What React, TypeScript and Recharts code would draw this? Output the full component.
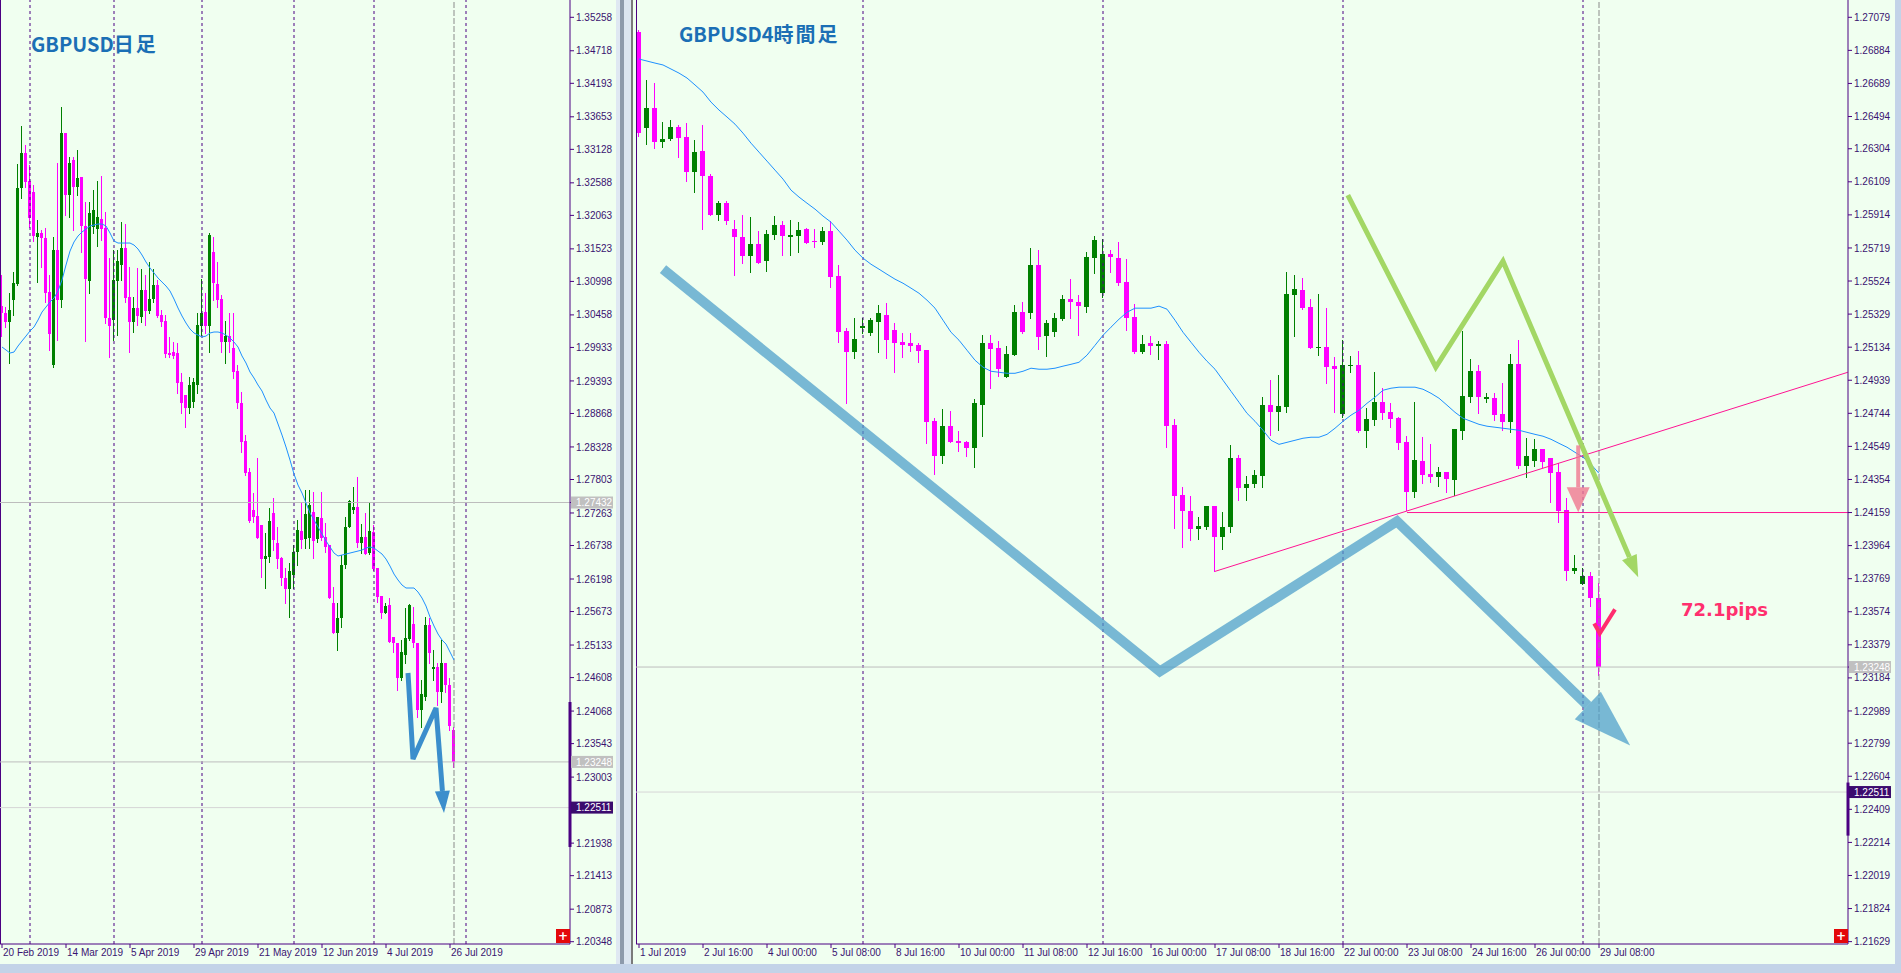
import { ComposedChart, Bar, Line, XAxis, YAxis, ReferenceLine } from "recharts";

const PLOT_BG = "#f0fff0";
const FRAME = "#4b0082";
const LABEL = "#3a1470";
const UP = "#008000";
const DOWN = "#ff00ff";
const MA_COLOR = "#1e90ff";
const AX_FONT = "'Liberation Sans', Arial, sans-serif";

// ---------- GBPUSD daily, 20 Feb 2019 .. 29 Jul 2019 ----------
const dOpen = [1.30601,1.30488,1.30343,1.30698,1.30956,1.32505,1.33069,1.32618,1.32440,1.31714,
1.31779,1.31698,1.30827,1.29650,1.31505,1.30698,1.33392,1.32392,1.32956,1.32521,
1.32682,1.31892,1.31005,1.31876,1.31843,1.32005,1.31859,1.30408,1.30375,1.31005,
1.31263,1.31537,1.30746,1.30343,1.30569,1.30424,1.30859,1.30521,1.30714,1.30940,
1.30456,1.30359,1.29843,1.29859,1.29843,1.29375,1.29166,1.28956,1.29053,1.29327,
1.30279,1.30504,1.30279,1.31472,1.30956,1.30714,1.30020,1.30117,1.29924,1.29553,
1.29037,1.28424,1.27924,1.27311,1.27214,1.27069,1.26520,1.26553,1.27262,1.26778,
1.26537,1.26214,1.26036,1.26262,1.26633,1.26972,1.26843,1.26859,1.27278,1.26843,
1.27182,1.26875,1.26746,1.25811,1.25327,1.25569,1.26424,1.27037,1.27311,1.27359,
1.26778,1.26875,1.26617,1.26956,1.26375,1.25924,1.25649,1.25778,1.25262,1.25165,
1.24601,1.24972,1.25230,1.25472,1.25165,1.24085,1.24294,1.25456,1.24746,1.24778,
1.24375,1.24843,1.24488,1.23762];
const dHigh = [1.31101,1.30585,1.30811,1.31150,1.32892,1.33505,1.33198,1.32876,1.32553,1.31988,
1.31827,1.31859,1.31101,1.31714,1.32908,1.33811,1.33392,1.33005,1.33005,1.33118,
1.32682,1.32279,1.32279,1.32472,1.32618,1.32698,1.32117,1.31376,1.31505,1.31505,
1.31956,1.31924,1.31230,1.30746,1.31214,1.31198,1.31101,1.31311,1.31198,1.31021,
1.30537,1.30456,1.30101,1.30020,1.30004,1.29521,1.29166,1.29456,1.29440,1.30488,
1.31037,1.30811,1.31779,1.31714,1.31311,1.30779,1.30359,1.30488,1.30488,1.29650,
1.29214,1.28520,1.27988,1.27585,1.28150,1.27069,1.26940,1.27343,1.27504,1.27037,
1.26553,1.26375,1.26456,1.26746,1.27149,1.27424,1.27633,1.27633,1.27601,1.27198,
1.27601,1.27101,1.26746,1.26069,1.25811,1.26585,1.27198,1.27472,1.27682,1.27843,
1.27085,1.27262,1.27440,1.27069,1.26375,1.25924,1.25811,1.25891,1.25262,1.25165,
1.25214,1.25730,1.25795,1.25746,1.25165,1.24569,1.25585,1.25569,1.25053,1.24843,
1.25214,1.24843,1.24601,1.23811];
const dLow = [1.30117,1.30263,1.29682,1.30456,1.30940,1.32343,1.32521,1.31876,1.31650,1.30988,
1.31230,1.30666,1.29892,1.29617,1.30053,1.30585,1.32069,1.32037,1.31827,1.32392,
1.31472,1.30037,1.30811,1.31779,1.31569,1.31666,1.30327,1.29779,1.30053,1.30133,
1.31021,1.30666,1.29859,1.30182,1.30295,1.30343,1.30295,1.30488,1.30666,1.30424,
1.30279,1.29779,1.29779,1.29763,1.29198,1.28875,1.28650,1.28875,1.28972,1.29198,
1.30133,1.30166,1.29859,1.30698,1.30585,1.29859,1.29682,1.29859,1.29440,1.28956,
1.28246,1.27875,1.27117,1.27117,1.26859,1.26230,1.26053,1.26472,1.26666,1.26375,
1.26101,1.25811,1.25585,1.26053,1.26424,1.26698,1.26698,1.26698,1.26537,1.26795,
1.26827,1.26633,1.25891,1.25327,1.25053,1.25424,1.26375,1.27037,1.27262,1.26714,
1.26617,1.26601,1.26601,1.26343,1.25827,1.25569,1.25649,1.25181,1.25020,1.24407,
1.24569,1.24843,1.25214,1.25101,1.23972,1.23811,1.24246,1.24843,1.24569,1.24165,
1.24214,1.24375,1.23762,1.23165];
const dClose = [1.30488,1.30343,1.30537,1.30972,1.32505,1.33069,1.32601,1.32021,1.31730,1.31779,
1.31698,1.30811,1.30150,1.31505,1.30698,1.33392,1.32392,1.32908,1.32521,1.32666,
1.31892,1.31037,1.32101,1.32150,1.32037,1.31843,1.30408,1.30279,1.31021,1.31327,
1.31537,1.30730,1.30343,1.30569,1.30440,1.30859,1.30521,1.30714,1.30940,1.30440,
1.30343,1.29827,1.29811,1.29795,1.29359,1.29037,1.28956,1.29327,1.29375,1.30295,
1.30488,1.30279,1.31746,1.30972,1.30698,1.30020,1.30117,1.30020,1.29537,1.29037,
1.28408,1.27908,1.27133,1.27198,1.26859,1.26520,1.26569,1.27133,1.26827,1.26520,
1.26214,1.26036,1.26327,1.26633,1.26988,1.26827,1.27246,1.27391,1.26811,1.27198,
1.26859,1.26714,1.25891,1.25327,1.25569,1.26424,1.27037,1.27456,1.27359,1.26778,
1.26875,1.26601,1.26972,1.26359,1.25907,1.25649,1.25762,1.25181,1.25165,1.24601,
1.25020,1.25246,1.25778,1.25165,1.24085,1.24343,1.25456,1.25004,1.24778,1.24375,
1.24843,1.24488,1.23827,1.23248];
const dMa = [1.29940,1.29892,1.29843,1.29859,1.29956,1.30037,1.30117,1.30198,1.30263,1.30375,
1.30504,1.30585,1.30666,1.30730,1.30843,1.31021,1.31263,1.31488,1.31634,1.31730,
1.31795,1.31843,1.31892,1.31908,1.31924,1.31924,1.31892,1.31779,1.31650,1.31617,
1.31617,1.31617,1.31617,1.31585,1.31521,1.31424,1.31311,1.31214,1.31134,1.31053,
1.30988,1.30924,1.30843,1.30714,1.30569,1.30440,1.30327,1.30230,1.30166,1.30133,
1.30101,1.30117,1.30166,1.30182,1.30182,1.30166,1.30133,1.30085,1.30020,1.29940,
1.29795,1.29682,1.29537,1.29440,1.29327,1.29230,1.29085,1.28956,1.28875,1.28698,
1.28520,1.28327,1.28117,1.27891,1.27714,1.27585,1.27424,1.27262,1.27149,1.27037,
1.26924,1.26811,1.26714,1.26617,1.26569,1.26585,1.26601,1.26617,1.26633,1.26649,
1.26666,1.26698,1.26714,1.26698,1.26649,1.26601,1.26520,1.26407,1.26278,1.26182,
1.26101,1.26053,1.26053,1.26053,1.25988,1.25891,1.25762,1.25585,1.25440,1.25311,
1.25214,1.25149,1.25020,1.24891];

const dTickIdx = [0, 16, 32, 48, 64, 80, 96, 112];
const dTickNames = ["20 Feb 2019", "14 Mar 2019", "5 Apr 2019", "29 Apr 2019", "21 May 2019", "12 Jun 2019", "4 Jul 2019", "26 Jul 2019"];
const dPriceTicks = [1.35258,1.34718,1.34193,1.33653,1.33128,1.32588,1.32063,1.31523,1.30998,1.30458,
1.29933,1.29393,1.28868,1.28328,1.27803,1.27263,1.26738,1.26198,1.25673,1.25133,
1.24608,1.24068,1.23543,1.23003,1.21938,1.21413,1.20873,1.20348,1.27432,1.23248,1.22511];
const dMarks = [{ v: 1.27432, bg: "#c0c0c0" }, { v: 1.23248, bg: "#c0c0c0" }, { v: 1.22511, bg: "#3b0b6e" }];
const dSeparators = [7, 28, 50, 73, 93, 116];
const dNow = 113;
const dGrayLines = [1.27432, 1.23248];
const dBlueIdx = [101.5, 102.75, 108.5, 110.1];
const dBluePrice = [1.24682, 1.23294, 1.24117, 1.22778];
const dBlueTip = [110.5, 1.22423];

// ---------- GBPUSD H4, 1 Jul 2019 08:00 .. 29 Jul 2019 08:00 ----------
const hOpen = [1.26992,1.26426,1.26544,1.26343,1.26361,1.26432,1.26373,1.26166,1.26290,1.26143,
1.25913,1.25983,1.25830,1.25783,1.25671,1.25741,1.25641,1.25795,1.25853,1.25783,
1.25789,1.25830,1.25759,1.25753,1.25818,1.25553,1.25228,1.25104,1.25246,1.25216,
1.25281,1.25322,1.25234,1.25163,1.25157,1.25145,1.25116,1.24697,1.24491,1.24668,
1.24579,1.24573,1.24538,1.24792,1.25157,1.25128,1.24957,1.25087,1.25340,1.25334,
1.25618,1.25199,1.25222,1.25299,1.25417,1.25399,1.25370,1.25659,1.25452,1.25682,
1.25659,1.25517,1.25311,1.25104,1.25157,1.25140,1.25151,1.24674,1.24261,1.24166,
1.24060,1.24072,1.24196,1.24013,1.24072,1.24479,1.24302,1.24325,1.24373,1.24792,
1.24750,1.24780,1.25441,1.25470,1.25370,1.25128,1.25134,1.25022,1.24738,1.25022,
1.25028,1.24638,1.24703,1.24809,1.24750,1.24715,1.24573,1.24278,1.24461,1.24384,
1.24367,1.24396,1.24349,1.24638,1.24839,1.24992,1.24827,1.24833,1.24738,1.24691,
1.25033,1.24432,1.24461,1.24532,1.24479,1.24396,1.24172,1.23812,1.23735,1.23783,
1.23653];
const hHigh = [1.27004,1.26709,1.26691,1.26461,1.26473,1.26444,1.26455,1.26355,1.26444,1.26154,
1.25995,1.25995,1.25883,1.25913,1.25901,1.25818,1.25824,1.25907,1.25877,1.25883,
1.25871,1.25836,1.25830,1.25842,1.25877,1.25618,1.25246,1.25305,1.25305,1.25305,
1.25381,1.25393,1.25275,1.25216,1.25216,1.25157,1.25116,1.24715,1.24768,1.24756,
1.24638,1.24579,1.24827,1.25204,1.25204,1.25169,1.25140,1.25381,1.25399,1.25718,
1.25706,1.25293,1.25334,1.25441,1.25535,1.25441,1.25694,1.25789,1.25771,1.25706,
1.25753,1.25653,1.25387,1.25204,1.25199,1.25169,1.25169,1.24709,1.24308,1.24255,
1.24131,1.24196,1.24196,1.24160,1.24556,1.24497,1.24373,1.24408,1.24839,1.24939,
1.24969,1.25576,1.25559,1.25541,1.25417,1.25446,1.25364,1.25075,1.25175,1.25081,
1.25110,1.24774,1.24986,1.24892,1.24803,1.24721,1.24609,1.24809,1.24603,1.24561,
1.24426,1.24396,1.24650,1.25228,1.25063,1.25028,1.24862,1.24862,1.24921,1.25092,
1.25175,1.24597,1.24591,1.24532,1.24479,1.24449,1.24243,1.23907,1.23830,1.23806,
1.23741];
const hLow = [1.26379,1.26331,1.26308,1.26314,1.26355,1.26255,1.26113,1.26048,1.25830,1.25913,
1.25883,1.25859,1.25559,1.25629,1.25576,1.25629,1.25582,1.25771,1.25677,1.25677,
1.25694,1.25747,1.25724,1.25741,1.25488,1.25163,1.24803,1.25069,1.25216,1.25204,
1.25104,1.25069,1.24986,1.25075,1.25110,1.25045,1.24567,1.24384,1.24449,1.24573,
1.24520,1.24491,1.24426,1.24609,1.24892,1.24963,1.24957,1.25087,1.25216,1.25305,
1.25122,1.25081,1.25199,1.25293,1.25305,1.25204,1.25340,1.25570,1.25429,1.25576,
1.25500,1.25234,1.25098,1.25098,1.25092,1.25063,1.24544,1.24066,1.23954,1.23995,
1.24001,1.24060,1.23812,1.23942,1.24042,1.24231,1.24231,1.24308,1.24308,1.24615,
1.24644,1.24750,1.25199,1.25358,1.25128,1.25087,1.24921,1.24750,1.24721,1.24986,
1.24632,1.24544,1.24674,1.24709,1.24662,1.24532,1.24172,1.24249,1.24331,1.24337,
1.24314,1.24278,1.24261,1.24591,1.24809,1.24744,1.24809,1.24703,1.24644,1.24632,
1.24420,1.24367,1.24432,1.24426,1.24219,1.24101,1.23759,1.23800,1.23735,1.23606,
1.23199];
const hClose = [1.26396,1.26544,1.26343,1.26361,1.26432,1.26367,1.26166,1.26284,1.26143,1.25913,
1.25983,1.25877,1.25783,1.25671,1.25741,1.25629,1.25800,1.25853,1.25789,1.25795,
1.25824,1.25747,1.25753,1.25818,1.25547,1.25222,1.25104,1.25181,1.25258,1.25293,
1.25334,1.25175,1.25157,1.25145,1.25140,1.25110,1.24691,1.24491,1.24668,1.24573,
1.24567,1.24538,1.24803,1.25157,1.25122,1.25004,1.25092,1.25340,1.25222,1.25618,
1.25193,1.25275,1.25305,1.25417,1.25399,1.25376,1.25665,1.25765,1.25682,1.25665,
1.25511,1.25305,1.25104,1.25151,1.25140,1.25151,1.24668,1.24255,1.24166,1.24060,
1.24078,1.24196,1.24013,1.24072,1.24479,1.24302,1.24325,1.24379,1.24792,1.24750,
1.24786,1.25446,1.25476,1.25364,1.25128,1.25134,1.25016,1.25004,1.25028,1.25028,
1.24638,1.24709,1.24809,1.24744,1.24709,1.24567,1.24278,1.24467,1.24379,1.24367,
1.24396,1.24355,1.24650,1.24845,1.24992,1.24839,1.24839,1.24733,1.24691,1.25033,
1.24432,1.24491,1.24532,1.24455,1.24390,1.24166,1.23812,1.23830,1.23783,1.23653,
1.23248];
const hMa = [1.26833,1.26821,1.26809,1.26798,1.26774,1.26750,1.26721,1.26680,1.26638,1.26579,
1.26532,1.26491,1.26449,1.26396,1.26337,1.26284,1.26231,1.26178,1.26125,1.26060,
1.26019,1.25983,1.25948,1.25907,1.25871,1.25818,1.25765,1.25706,1.25659,1.25623,
1.25594,1.25564,1.25535,1.25511,1.25482,1.25452,1.25411,1.25364,1.25293,1.25222,
1.25175,1.25116,1.25057,1.25016,1.24992,1.24986,1.24980,1.24980,1.24992,1.25010,
1.25004,1.25004,1.25010,1.25022,1.25033,1.25045,1.25087,1.25145,1.25204,1.25252,
1.25299,1.25340,1.25364,1.25364,1.25364,1.25376,1.25358,1.25293,1.25222,1.25163,
1.25104,1.25051,1.25004,1.24939,1.24874,1.24809,1.24744,1.24697,1.24644,1.24585,
1.24561,1.24573,1.24585,1.24597,1.24603,1.24603,1.24620,1.24656,1.24697,1.24733,
1.24762,1.24803,1.24839,1.24880,1.24892,1.24898,1.24898,1.24898,1.24886,1.24862,
1.24833,1.24792,1.24750,1.24715,1.24697,1.24679,1.24668,1.24662,1.24656,1.24650,
1.24644,1.24632,1.24620,1.24609,1.24591,1.24567,1.24544,1.24514,1.24485,1.24443,
1.24390];

const hTickIdx = [0, 8, 16, 24, 32, 40, 48, 56, 64, 72, 80, 88, 96, 104, 112, 120];
const hTickNames = ["1 Jul 2019", "2 Jul 16:00", "4 Jul 00:00", "5 Jul 08:00", "8 Jul 16:00", "10 Jul 00:00",
  "11 Jul 08:00", "12 Jul 16:00", "16 Jul 00:00", "17 Jul 08:00", "18 Jul 16:00", "22 Jul 00:00",
  "23 Jul 08:00", "24 Jul 16:00", "26 Jul 00:00", "29 Jul 08:00"];
const hPriceTicks = [1.27079,1.26884,1.26689,1.26494,1.26304,1.26109,1.25914,1.25719,1.25524,1.25329,
1.25134,1.24939,1.24744,1.24549,1.24354,1.24159,1.23964,1.23769,1.23574,1.23379,
1.23184,1.22989,1.22799,1.22604,1.22409,1.22214,1.22019,1.21824,1.21629,1.23248,1.22511];
const hMarks = [{ v: 1.23248, bg: "#c0c0c0" }, { v: 1.22511, bg: "#3b0b6e" }];
const hSeparators = [28, 58, 88, 118];
const hNow = 120;
const hBlueIdx = [3, 65.1, 94.75, 118.6];
const hBluePrice = [1.25594, 1.23222, 1.24107, 1.23021];
const hBlueTip = [123.9, 1.22785];
const hGreenIdx = [88.6, 99.6, 108, 123.8];
const hGreenPrice = [1.26030, 1.25016, 1.25641, 1.23896];
const hGreenTip = [124.9, 1.23777];
const hTrend = [[72, 1.23812], [151.1, 1.24986]];
const hLevel = [96, 1.24159];
const hPinkArrow = [117.4, 1.24555, 1.24308, 1.24160]; // x, tail, head base, tip
const hCheckIdx = [119.4, 120.1, 122];
const hCheckPrice = [1.23505, 1.23446, 1.23588];

const buildRows = (o: number[], h: number[], l: number[], c: number[], ma: number[]) =>
  o.map((_, i) => ({ i, open: o[i], high: h[i], low: l[i], close: c[i], ma: ma[i] }));
const pts = (idx: number[], px: number[]) => idx.map((i, k) => ({ i, v: px[k] }));

const Candle = (p: any) => {
  const { x, y, width, height, payload, bodyW } = p;
  if (x == null || y == null || !payload) return null;
  const top = Math.min(y, y + height);
  const bottom = Math.max(y, y + height);
  const { open, high, low, close } = payload;
  const k = high > low ? (bottom - top) / (high - low) : 0;
  const yo = top + (high - open) * k;
  const yc = top + (high - close) * k;
  const color = close > open ? UP : DOWN;
  const cx = Math.floor(x + width / 2) + 0.5;
  const bTop = Math.round(Math.min(yo, yc));
  const bH = Math.max(1, Math.round(Math.abs(yc - yo)));
  return (
    <g>
      <line x1={cx} x2={cx} y1={Math.round(top)} y2={Math.round(bottom) + 1} stroke={color} strokeWidth={1} />
      <rect x={cx - bodyW / 2} y={bTop} width={bodyW} height={bH} fill={color} />
    </g>
  );
};

const ArrowHead = (p: any) => {
  const { x1, y1, x2, y2, half, color, opacity } = p;
  if ([x1, y1, x2, y2].some((v) => typeof v !== "number" || isNaN(v))) return null;
  const dx = x2 - x1;
  const dy = y2 - y1;
  const len = Math.hypot(dx, dy) || 1;
  const nx = -dy / len;
  const ny = dx / len;
  const points = `${x1 + nx * half},${y1 + ny * half} ${x2},${y2} ${x1 - nx * half},${y1 - ny * half}`;
  return <polygon points={points} fill={color} fillOpacity={opacity} />;
};

const PriceTick = (p: any) => {
  const { x, y, payload, marks } = p;
  const v = payload.value as number;
  const m = marks.find((mm: any) => mm.v === v);
  const s = v.toFixed(5);
  if (m) {
    return (
      <g>
        <rect x={x - 5} y={y - 6} width={42} height={12} fill={m.bg} />
        <text x={x} y={y} dy={3.6} fill="#ffffff" fontSize={10} fontFamily={AX_FONT}>{s}</text>
      </g>
    );
  }
  return <text x={x} y={y} dy={3.6} fill={LABEL} fontSize={10} fontFamily={AX_FONT}>{s}</text>;
};

const TimeTick = (p: any) => {
  const { x, y, payload, idx, names } = p;
  const k = idx.indexOf(payload.value);
  return <text x={x + 1} y={y} dy={6} fill={LABEL} fontSize={10} fontFamily={AX_FONT}>{names[k]}</text>;
};

const plusBox = (left: number) => (
  <div style={{ position: "absolute", left, top: 929, width: 14, height: 14, background: "#e4080a",
    color: "#fff", fontSize: 12, lineHeight: "14px", textAlign: "center", fontFamily: "DejaVu Sans", fontWeight: 700 }}>+</div>
);

const titleStyle = (left: number, top: number) => ({
  position: "absolute" as const, left, top, fontSize: 20, lineHeight: "20px", fontWeight: 700,
  color: "#1b6fb5", fontFamily: "'Noto Sans CJK JP', 'Noto Sans', sans-serif", whiteSpace: "nowrap" as const,
});

export default function App() {
  const dRows = buildRows(dOpen, dHigh, dLow, dClose, dMa);
  const hRows = buildRows(hOpen, hHigh, hLow, hClose, hMa);
  const dDomain: [number, number] = [-0.5, 142];
  const hDomain: [number, number] = [-0.375, 151.125];

  return (
    <div style={{ position: "absolute", left: 0, top: 0, width: 1901, height: 973, background: "#c3d3e8", overflow: "hidden" }}>
      {/* daily panel */}
      <div style={{ position: "absolute", left: 0, top: 0, width: 616, height: 964, background: PLOT_BG }}>
        <ComposedChart width={615} height={964} data={dRows} margin={{ top: 0, right: 0, bottom: 0, left: 0 }}>
          <XAxis type="number" dataKey="i" domain={dDomain} allowDataOverflow ticks={dTickIdx} interval={0}
            height={20} tickSize={4} tickMargin={2} stroke={FRAME} axisLine={{ stroke: FRAME }} tickLine={{ stroke: FRAME }}
            tick={(p: any) => <TimeTick {...p} idx={dTickIdx} names={dTickNames} />} />
          <YAxis type="number" orientation="right" domain={[1.20311, 1.35537]} allowDataOverflow ticks={dPriceTicks}
            interval={0} width={45} tickSize={4} tickMargin={2} axisLine={{ stroke: FRAME }} tickLine={{ stroke: FRAME }}
            tick={(p: any) => <PriceTick {...p} marks={dMarks} />} />
          <ReferenceLine x={dDomain[0]} stroke={FRAME} strokeWidth={2} />
          {dSeparators.map((s) => (
            <ReferenceLine key={s} x={s} stroke={FRAME} strokeDasharray="3 3" />
          ))}
          <ReferenceLine x={dNow} stroke="#8a8a8a" strokeDasharray="6 2" />
          {dGrayLines.map((v) => (
            <ReferenceLine key={v} y={v} stroke="#bdbdbd" />
          ))}
          <ReferenceLine y={1.22511} stroke="#d6d6d6" />
          <ReferenceLine segment={[{ x: 142, y: 1.24214 }, { x: 142, y: 1.21875 }]} stroke={FRAME} strokeWidth={3} ifOverflow="visible" />
          <Bar dataKey={(d: any) => [d.low, d.high]} barSize={3} isAnimationActive={false} activeBar={false}
            shape={(p: any) => <Candle {...p} bodyW={3} />} />
          <Line dataKey="ma" type="linear" stroke={MA_COLOR} strokeWidth={1} dot={false} activeDot={false} isAnimationActive={false} />
          <Line data={pts(dBlueIdx, dBluePrice)} dataKey="v" type="linear" stroke="#3b8ecc" strokeWidth={5}
            strokeLinejoin="miter" dot={false} activeDot={false} isAnimationActive={false} />
          <ReferenceLine segment={[{ x: dBlueIdx[3], y: dBluePrice[3] }, { x: dBlueTip[0], y: dBlueTip[1] }]}
            ifOverflow="visible" shape={(p: any) => <ArrowHead {...p} half={7.5} color="#3b8ecc" opacity={1} />} />
        </ComposedChart>
        <div style={titleStyle(31, 34)}>GBPUSD<span style={{ letterSpacing: 2 }}>日足</span></div>
        {plusBox(556)}
      </div>

      {/* separator between windows */}
      <div style={{ position: "absolute", left: 616, top: 0, width: 4, height: 964, background: "#dfe8f2" }} />
      <div style={{ position: "absolute", left: 620, top: 0, width: 4, height: 964, background: "#8d9aab" }} />
      <div style={{ position: "absolute", left: 624, top: 0, width: 7, height: 964, background: "#dbe5f0" }} />
      <div style={{ position: "absolute", left: 631, top: 0, width: 2, height: 964, background: "#7a7a7a" }} />

      {/* H4 panel */}
      <div style={{ position: "absolute", left: 633, top: 0, width: 1262, height: 964, background: PLOT_BG }}>
        <div style={{ position: "absolute", left: 3, top: 0 }}>
          <ComposedChart width={1262} height={964} data={hRows} margin={{ top: 0, right: 0, bottom: 0, left: 0 }}>
            <XAxis type="number" dataKey="i" domain={hDomain} allowDataOverflow ticks={hTickIdx} interval={0}
              height={20} tickSize={4} tickMargin={2} axisLine={{ stroke: FRAME }} tickLine={{ stroke: FRAME }}
              tick={(p: any) => <TimeTick {...p} idx={hTickIdx} names={hTickNames} />} />
            <YAxis type="number" orientation="right" domain={[1.21615, 1.27181]} allowDataOverflow ticks={hPriceTicks}
              interval={0} width={50} tickSize={4} tickMargin={2} axisLine={{ stroke: FRAME }} tickLine={{ stroke: FRAME }}
              tick={(p: any) => <PriceTick {...p} marks={hMarks} />} />
            <ReferenceLine x={hDomain[0]} stroke={FRAME} strokeWidth={2} />
            {hSeparators.map((s) => (
              <ReferenceLine key={s} x={s} stroke={FRAME} strokeDasharray="3 3" />
            ))}
            <ReferenceLine x={hNow} stroke="#8a8a8a" strokeDasharray="6 2" />
            <ReferenceLine y={1.23248} stroke="#bdbdbd" />
            <ReferenceLine y={1.22511} stroke="#d6d6d6" />
            <ReferenceLine segment={[{ x: 151.125, y: 1.22567 }, { x: 151.125, y: 1.22254 }]} stroke={FRAME} strokeWidth={3} ifOverflow="visible" />
            <Bar dataKey={(d: any) => [d.low, d.high]} barSize={5} isAnimationActive={false} activeBar={false}
              shape={(p: any) => <Candle {...p} bodyW={5} />} />
            <Line dataKey="ma" type="linear" stroke={MA_COLOR} strokeWidth={1} dot={false} activeDot={false} isAnimationActive={false} />
            <ReferenceLine segment={[{ x: hTrend[0][0], y: hTrend[0][1] }, { x: hTrend[1][0], y: hTrend[1][1] }]}
              stroke="#ff1493" strokeWidth={1} ifOverflow="hidden" />
            <ReferenceLine segment={[{ x: hLevel[0], y: hLevel[1] }, { x: hDomain[1], y: hLevel[1] }]}
              stroke="#ff1493" strokeWidth={1} ifOverflow="hidden" />
            <Line data={pts(hBlueIdx, hBluePrice)} dataKey="v" type="linear" stroke="#4a9cc9" strokeOpacity={0.72}
              strokeWidth={10} strokeLinejoin="miter" dot={false} activeDot={false} isAnimationActive={false} />
            <ReferenceLine segment={[{ x: hBlueIdx[3], y: hBluePrice[3] }, { x: hBlueTip[0], y: hBlueTip[1] }]}
              ifOverflow="visible" shape={(p: any) => <ArrowHead {...p} half={19} color="#4a9cc9" opacity={0.72} />} />
            <Line data={pts(hGreenIdx, hGreenPrice)} dataKey="v" type="linear" stroke="#a3d765"
              strokeWidth={5} strokeLinejoin="miter" dot={false} activeDot={false} isAnimationActive={false} />
            <ReferenceLine segment={[{ x: hGreenIdx[3], y: hGreenPrice[3] }, { x: hGreenTip[0], y: hGreenTip[1] }]}
              ifOverflow="visible" shape={(p: any) => <ArrowHead {...p} half={8} color="#a3d765" opacity={1} />} />
            <ReferenceLine segment={[{ x: hPinkArrow[0], y: hPinkArrow[1] }, { x: hPinkArrow[0], y: hPinkArrow[2] }]}
              stroke="#f07890" strokeOpacity={0.8} strokeWidth={4} ifOverflow="visible" />
            <ReferenceLine segment={[{ x: hPinkArrow[0], y: hPinkArrow[2] }, { x: hPinkArrow[0], y: hPinkArrow[3] }]}
              ifOverflow="visible" shape={(p: any) => <ArrowHead {...p} half={11.5} color="#f07890" opacity={0.8} />} />
            <Line data={pts(hCheckIdx, hCheckPrice)} dataKey="v" type="linear" stroke="#ff2d6e"
              strokeWidth={4} strokeLinejoin="miter" dot={false} activeDot={false} isAnimationActive={false} />
          </ComposedChart>
        </div>
        <div style={titleStyle(46, 24)}>GBPUSD4<span style={{ letterSpacing: 2 }}>時間足</span></div>
        <div style={{ position: "absolute", left: 1048, top: 601, fontSize: 18, lineHeight: "18px", fontWeight: 700,
          color: "#ff2f6e", fontFamily: "'DejaVu Sans', sans-serif", whiteSpace: "nowrap" }}>72.1pips</div>
        {plusBox(1201)}
      </div>
    </div>
  );
}
